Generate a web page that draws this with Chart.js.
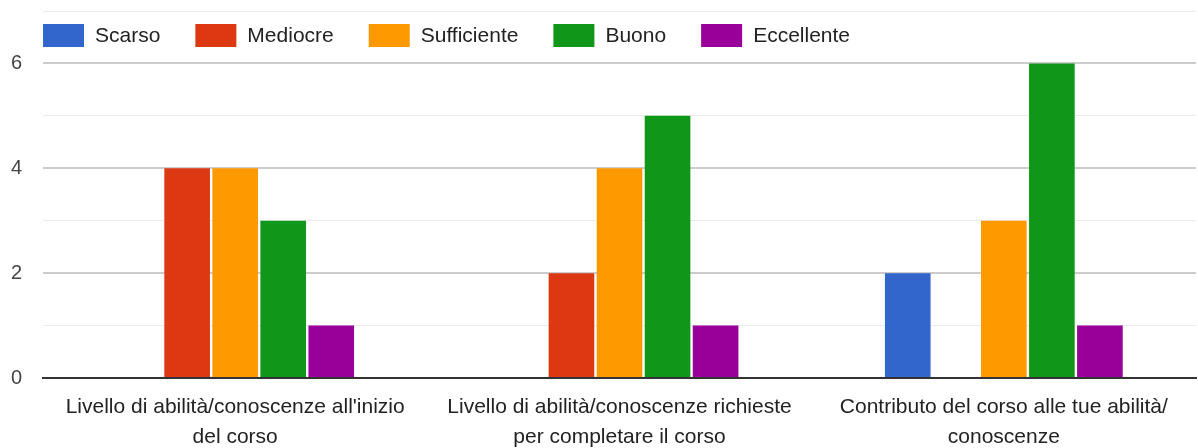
<!DOCTYPE html>
<html>
<head>
<meta charset="utf-8">
<script src="https://cdn.jsdelivr.net/npm/chart.js@4"></script>
<style>
  html, body { margin: 0; padding: 0; background: #fff; }
</style>
</head>
<body>
<canvas id="chart" width="1198" height="448"></canvas>
<script>
const categories = [
    ["Livello di abilità/conoscenze all'inizio", "del corso"],
    ["Livello di abilità/conoscenze richieste", "per completare il corso"],
    ["Contributo del corso alle tue abilità/", "conoscenze"]
];
const seriesNames = ["Scarso", "Mediocre", "Sufficiente", "Buono", "Eccellente"];
const seriesColors = ["#3366cc", "#dc3912", "#ff9900", "#109618", "#990099"];
const scarso = [0, 0, 2];
const mediocre = [4, 2, 0];
const sufficiente = [4, 4, 3];
const buono = [3, 5, 6];
const eccellente = [1, 1, 1];
const yTicks = [0, 2, 4, 6];

const seriesValues = [scarso, mediocre, sufficiente, buono, eccellente];
const FONT = "'Liberation Sans', Arial, sans-serif";

// legenda disegnata dentro l'area del grafico, come in Google Forms
const insideLegend = {
    id: "insideLegend",
    afterDraw(chart) {
        const ctx = chart.ctx;
        const area = chart.chartArea;
        let x = area.left;
        const y = 24;
        ctx.save();
        ctx.font = "21px " + FONT;
        ctx.textBaseline = "middle";
        ctx.textAlign = "left";
        chart.data.datasets.forEach(ds => {
            ctx.fillStyle = ds.backgroundColor;
            ctx.fillRect(x, y, 41, 23);
            ctx.fillStyle = "#222";
            ctx.fillText(ds.label, x + 52, y + 12);
            x += 52 + ctx.measureText(ds.label).width + 35;
        });
        ctx.restore();
    }
};

new Chart(document.getElementById("chart"), {
    type: "bar",
    data: {
        labels: categories,
        datasets: seriesNames.map((name, i) => ({
            label: name,
            data: seriesValues[i],
            backgroundColor: seriesColors[i],
            borderWidth: 0,
            barPercentage: 0.95,
            categoryPercentage: 0.625
        }))
    },
    options: {
        responsive: false,
        animation: false,
        devicePixelRatio: 1,
        layout: { padding: { top: 11, right: 2, left: 0, bottom: 0 } },
        plugins: {
            legend: { display: false },
            tooltip: { enabled: false }
        },
        scales: {
            x: {
                z: 1,
                grid: { display: false },
                border: { display: true, color: "#333", width: 2 },
                ticks: {
                    color: "#222",
                    font: { family: FONT, size: 21, lineHeight: 1.45 },
                    padding: 6,
                    maxRotation: 0,
                    autoSkip: false
                },
                afterFit(scale) {
                    scale.height = 70;
                    scale.paddingLeft = 0;
                    scale.paddingRight = 0;
                }
            },
            y: {
                min: 0,
                max: 7,
                border: { display: false },
                grid: {
                    drawTicks: false,
                    color: c => c.tick.value === 0 ? "rgba(0,0,0,0)" :
                        (c.tick.value % 2 === 0 ? "#cccccc" : "#ebebeb"),
                    lineWidth: c => c.tick.value % 2 === 0 ? 2 : 1
                },
                ticks: {
                    stepSize: 1,
                    color: "#444",
                    font: { family: FONT, size: 20 },
                    padding: 21,
                    callback: v => yTicks.includes(v) ? v : ""
                },
                afterFit(scale) {
                    scale.width = 43;
                    scale.paddingTop = 0;
                    scale.paddingBottom = 0;
                }
            }
        }
    },
    plugins: [insideLegend]
});
</script>
</body>
</html>
